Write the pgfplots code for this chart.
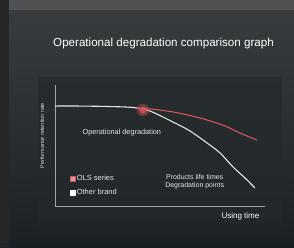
\documentclass[border=0pt]{standalone}
\usepackage{pgfplots}
\pgfplotsset{compat=1.18}
\usepackage{fontspec}
\setmainfont{Liberation Sans}
\definecolor{bgtop}{HTML}{3A3D3F}
\definecolor{bgbot}{HTML}{1A2124}
\definecolor{panel}{HTML}{24292B}
\definecolor{redc}{HTML}{D4545C}
\definecolor{whitec}{HTML}{E4E6E6}
\begin{document}
\begin{tikzpicture}[x=1pt,y=1pt]
% background (294 x 247)
\shade[top color=bgtop, bottom color=bgbot] (0,0) rectangle (294,247);
\fill[black!85] (0,0) rectangle (9,247);
\fill[black!60, opacity=0.5] (9,237) rectangle (294,247);
\fill[panel, opacity=0.7] (38,22) rectangle (282,170);
\node[text=white, font=\fontsize{11.6}{13}\selectfont] at (163.5,204) {Operational degradation comparison graph};
\begin{axis}[
  at={(55pt,41pt)}, anchor=south west,
  width=210pt, height=121pt, scale only axis,
  xmin=0, xmax=100, ymin=0, ymax=100,
  axis lines=left,
  axis line style={gray!70, line width=0.8pt, -},
  xtick=\empty, ytick=\empty,
  clip=false,
  ylabel={Performance retention rate},
  ylabel style={text=white!85!black, font=\fontsize{5.5}{6}\selectfont, at={(axis description cs:-0.035,0.58)}},
  legend style={at={(axis cs:5.5,5)}, anchor=south west, fill=none, draw=none,
    text=white!90!black, font=\fontsize{7.5}{9}\selectfont, row sep=2.5pt},
  legend cell align=left,
]
% glow
\addplot[only marks, mark=*, mark size=6pt, redc, opacity=0.35, forget plot] coordinates {(41.9,79.3)};
\addplot[only marks, mark=*, mark size=3.5pt, redc, opacity=0.8, forget plot] coordinates {(41.9,79.3)};
% other brand (white)
\addplot[whitec, line width=1.1pt, smooth, forget plot] coordinates {
(0,82.6)(11.9,82.6)(26.2,82.2)(37.1,81.4)(45.2,78.5)(56.2,69.4)(64.3,62.0)(72.4,52.1)(78.6,43.8)(84.8,32.2)(90.5,23.1)(95.2,14.9)};
% OLS (red)
\addplot[redc, line width=1.1pt, smooth, forget plot] coordinates {
(39.0,81.0)(47.6,79.8)(56.2,77.7)(64.3,74.8)(72.4,71.1)(81.0,66.1)(88.1,60.3)(96.2,54.5)};
\addlegendimage{only marks, mark=square*, mark size=2.5pt, mark options={fill=redc!60!white, draw=redc}}
\addlegendentry{OLS series}
\addlegendimage{only marks, mark=square*, mark size=2.5pt, mark options={fill=white, draw=white}}
\addlegendentry{Other brand}
\node[text=white!90!black, font=\fontsize{7.3}{9}\selectfont, anchor=west] at (axis cs:11.5,60.3) {Operational degradation};
\node[text=white!90!black, font=\fontsize{7}{8.5}\selectfont, align=center] at (axis cs:66.5,20) {Products life times\\Degradation points};
\node[text=white, font=\fontsize{8}{9}\selectfont, anchor=north east] at (axis cs:99,-3) {Using time};
\end{axis}
\end{tikzpicture}
\end{document}
